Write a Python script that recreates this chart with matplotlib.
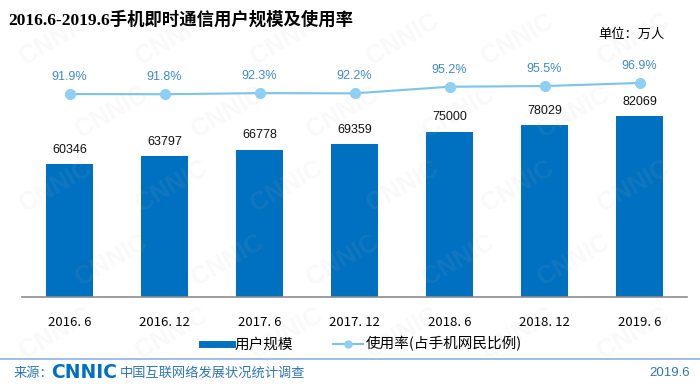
import matplotlib
matplotlib.use("Agg")
import matplotlib.pyplot as plt
from matplotlib.lines import Line2D

plt.rcParams['font.family'] = ['Liberation Sans', 'Noto Sans CJK SC', 'DejaVu Sans']

categories = ["2016. 6", "2016. 12", "2017. 6", "2017. 12", "2018. 6", "2018. 12", "2019. 6"]
users = [60346, 63797, 66778, 69359, 75000, 78029, 82069]
rate = [91.9, 91.8, 92.3, 92.2, 95.2, 95.5, 96.9]

BAR = '#0070C0'
LINE = '#7CC3EA'
MARK = '#8DD0F4'
PCT = '#3D8BCB'
CJK = ['Noto Sans CJK SC', 'DejaVu Sans']

fig = plt.figure(figsize=(7, 3.88), dpi=100)

# faint watermark overlay
for row in range(5):
    for col in range(6):
        wx = 0.08 + col * 0.165 + (0.08 if row % 2 else 0)
        wy = 0.9 - row * 0.19
        if wx > 0.93:
            continue
        fig.text(wx, wy, "CNNIC", fontsize=18, fontweight='bold', color='#bdbdbd',
                 alpha=0.09, rotation=30, ha='center', va='center', zorder=5)

ax = fig.add_axes([22/700, (388-297)/388, 665/700, 237/388])
ax.patch.set_alpha(0)
x = list(range(len(categories)))
bars = ax.bar(x, users, width=0.5, color=BAR, zorder=2)
ax.set_xlim(-0.5, len(categories) - 0.5)
ax.set_ylim(0, 107480)
for xi, v in zip(x, users):
    ax.annotate(f"{v}", (xi, v), xytext=(0, 6), textcoords='offset points',
                ha='center', va='bottom', fontsize=9, color='#111111')
for s in ['top', 'right', 'left']:
    ax.spines[s].set_visible(False)
ax.spines['bottom'].set_color('#8c8c8c')
ax.spines['bottom'].set_linewidth(1.2)
ax.set_yticks([])
ax.set_xticks(x)
ax.set_xticklabels(categories, fontsize=9.5, family=CJK)
ax.tick_params(axis='x', length=0, pad=14)

ax2 = ax.twinx()
ax2.set_ylim(0, 107.3)
ax2.plot(x, rate, color=LINE, lw=1.5, marker='o', ms=7, mfc=MARK, mec=MARK, zorder=3)
for xi, v in zip(x, rate):
    ax2.annotate(f"{v}%", (xi, v), xytext=(0, 8), textcoords='offset points',
                 ha='center', va='bottom', fontsize=9, color=PCT)
ax2.set_yticks([])
for s in ax2.spines.values():
    s.set_visible(False)

handles = [Line2D([], [], color=BAR, lw=5),
           Line2D([], [], color=LINE, lw=1.5, marker='o', ms=5, mfc=MARK, mec=MARK)]
fig.legend(handles, ["用户规模", "使用率(占手机网民比例)"], loc='center',
           bbox_to_anchor=(362/700, (388-344)/388), ncol=2, frameon=False,
           prop={'family': CJK, 'size': 10.5}, handlelength=2.05, columnspacing=2.7,
           handletextpad=0.2, borderpad=0.2)

fig.text(8/700, 1 - 20/388, "2016.6-2019.6手机即时通信用户规模及使用率", fontsize=12.5,
         fontweight='bold', family=['Liberation Serif', 'Noto Sans CJK SC'],
         ha='left', va='center')
fig.text(665/700, 1 - 34/388, "单位：万人", fontsize=9.5, family=CJK, ha='right', va='center')

fig.add_artist(Line2D([0, 1], [1 - 359/388, 1 - 359/388], color='#8DB3E2', lw=1.2))
fig.text(14/700, 1 - 373/388, "来源：", fontsize=9.5, family=CJK, color='#2E75B6',
         ha='left', va='center')
fig.text(51/700, 1 - 373/388, "CNNIC", fontsize=13.5, fontweight='heavy', color=BAR,
         family=['DejaVu Sans'], ha='left', va='center')
fig.text(120/700, 1 - 373/388, "中国互联网络发展状况统计调查", fontsize=9.5, family=CJK,
         color='#2E75B6', ha='left', va='center')
fig.text(690/700, 1 - 373/388, "2019.6", fontsize=9.5, color='#2E75B6', ha='right', va='center')

fig.savefig("out.png", dpi=100)
